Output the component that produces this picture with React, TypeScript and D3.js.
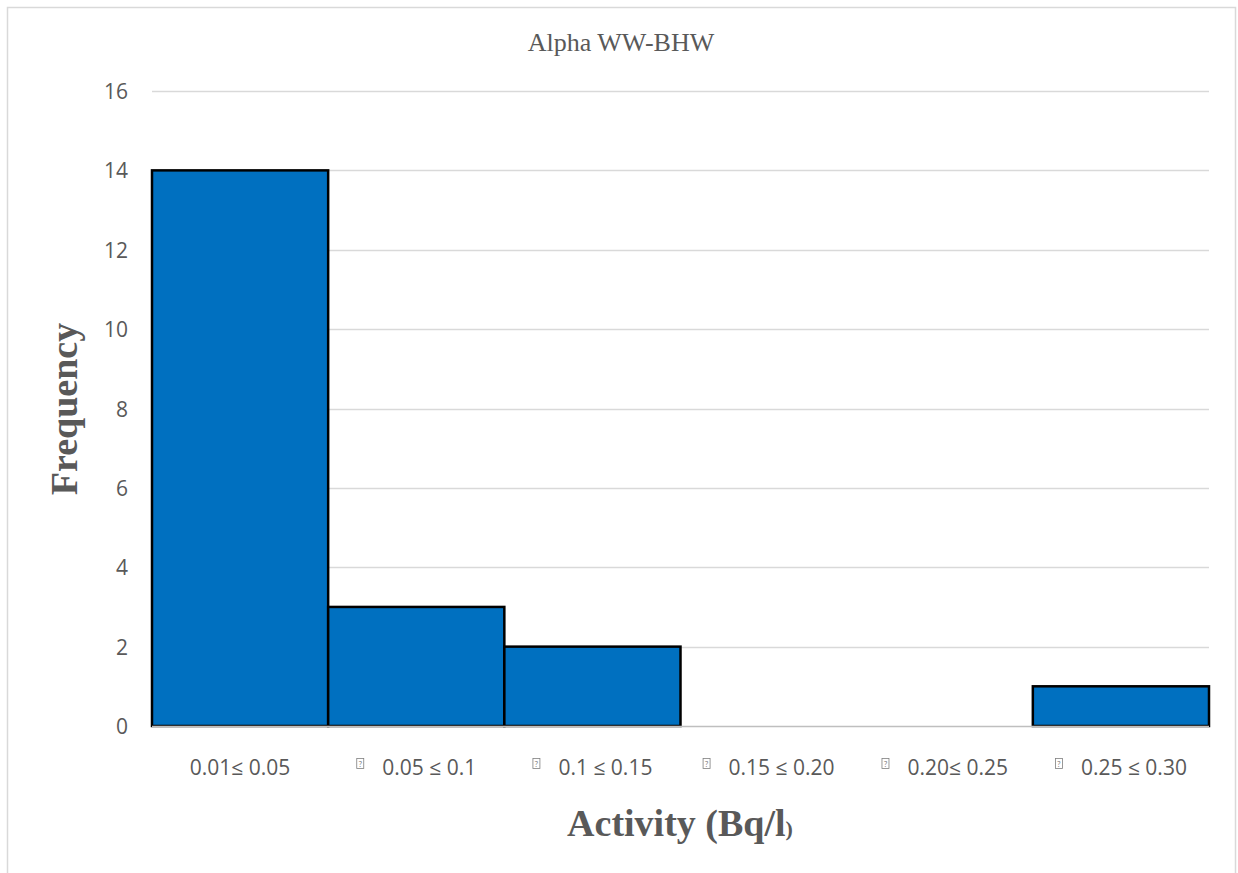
import React, { useEffect, useRef } from 'react';
import * as d3 from 'd3';

// histogram bins and counts
const bins = ['0.01≤ 0.05', '0.05 ≤ 0.1', '0.1 ≤ 0.15', '0.15 ≤ 0.20', '0.20≤ 0.25', '0.25 ≤ 0.30'];
const counts = [14, 3, 2, 0, 0, 1];
// labels that show the broken-glyph box in front of them
const hasBox = [false, true, true, true, true, true];
const yTicks = [0, 2, 4, 6, 8, 10, 12, 14, 16];

const W = 1238;
const H = 873;
const dm = { left: 152, right: 1209, top: 91, bottom: 726 };
const tickFont = '"Open Sans", Lato, sans-serif';

export default function App() {
  const svgRef = useRef<SVGSVGElement | null>(null);

  useEffect(() => {
    const svg = d3.select(svgRef.current);
    svg.selectAll('*').remove();

    const x = d3.scaleBand<string>().domain(bins).range([dm.left, dm.right]).padding(0);
    const y = d3.scaleLinear().domain([0, 16]).range([dm.bottom, dm.top]);

    // outer frame
    svg.append('rect')
      .attr('x', 7.5).attr('y', 7.5)
      .attr('width', 1228).attr('height', 880)
      .attr('fill', 'white')
      .attr('stroke', '#d9d9d9')
      .attr('stroke-width', 1.5);

    // title
    svg.append('text')
      .attr('x', 621).attr('y', 51)
      .attr('text-anchor', 'middle')
      .attr('font-family', '"Liberation Serif", serif')
      .attr('font-size', 26)
      .attr('fill', '#595959')
      .text('Alpha WW-BHW');

    // gridlines
    svg.append('g')
      .selectAll('line')
      .data(yTicks.filter(t => t > 0))
      .enter()
      .append('line')
      .attr('x1', dm.left).attr('x2', dm.right)
      .attr('y1', d => Math.round(y(d)) + 0.5)
      .attr('y2', d => Math.round(y(d)) + 0.5)
      .attr('stroke', '#d9d9d9')
      .attr('stroke-width', 1.3);

    // y tick labels
    svg.append('g')
      .selectAll('text')
      .data(yTicks)
      .enter()
      .append('text')
      .attr('x', 128)
      .attr('y', d => y(d) + 8)
      .attr('text-anchor', 'end')
      .attr('font-family', tickFont)
      .attr('font-size', 21)
      .attr('fill', '#595959')
      .text(d => d);

    // bars
    svg.append('g')
      .selectAll('rect')
      .data(counts.map((c, i) => ({ bin: bins[i], c })).filter(d => d.c > 0))
      .enter()
      .append('rect')
      .attr('x', d => (x(d.bin) as number))
      .attr('y', d => y(d.c))
      .attr('width', x.bandwidth())
      .attr('height', d => dm.bottom - y(d.c))
      .attr('fill', '#0070c0')
      .attr('stroke', '#000')
      .attr('stroke-width', 2.5);

    // x axis line
    svg.append('line')
      .attr('x1', dm.left).attr('x2', dm.right)
      .attr('y1', dm.bottom + 0.5).attr('y2', dm.bottom + 0.5)
      .attr('stroke', '#bfbfbf')
      .attr('stroke-width', 1.3);

    // x tick labels, with box glyph where the source font was missing a symbol
    const labels = svg.append('g');
    bins.forEach((b, i) => {
      const cx = (x(b) as number) + x.bandwidth() / 2;
      const t = labels.append('text')
        .attr('y', 775)
        .attr('font-family', tickFont)
        .attr('font-size', 21)
        .attr('fill', '#595959')
        .text(b);
      const w = (t.node() as SVGTextElement).getComputedTextLength();
      const boxW = hasBox[i] ? 26 : 0;
      const start = cx - (w + boxW) / 2;
      t.attr('x', start + boxW);
      if (hasBox[i]) {
        labels.append('rect')
          .attr('x', start + 0.5).attr('y', 758.5)
          .attr('width', 7).attr('height', 10)
          .attr('fill', 'none')
          .attr('stroke', '#7f7f7f')
          .attr('stroke-width', 0.8);
        labels.append('text')
          .attr('x', start + 4).attr('y', 766.5)
          .attr('text-anchor', 'middle')
          .attr('font-family', 'Lato, sans-serif')
          .attr('font-size', 8)
          .attr('fill', '#7f7f7f')
          .text('?');
      }
    });

    // axis titles
    svg.append('text')
      .attr('transform', 'translate(77,409) rotate(-90)')
      .attr('text-anchor', 'middle')
      .attr('font-family', '"Liberation Serif", serif')
      .attr('font-weight', 'bold')
      .attr('font-size', 38)
      .attr('fill', '#595959')
      .text('Frequency');

    const xt = svg.append('text')
      .attr('x', 680).attr('y', 836)
      .attr('text-anchor', 'middle')
      .attr('font-family', '"Liberation Serif", serif')
      .attr('font-weight', 'bold')
      .attr('fill', '#595959');
    xt.append('tspan').attr('font-size', 38).text('Activity (Bq/l');
    xt.append('tspan').attr('font-size', 22).text(')');
  }, []);

  return (
    <svg
      ref={svgRef}
      width={W}
      height={H}
      style={{ position: 'absolute', left: 0, top: 0, display: 'block' }}
    />
  );
}
